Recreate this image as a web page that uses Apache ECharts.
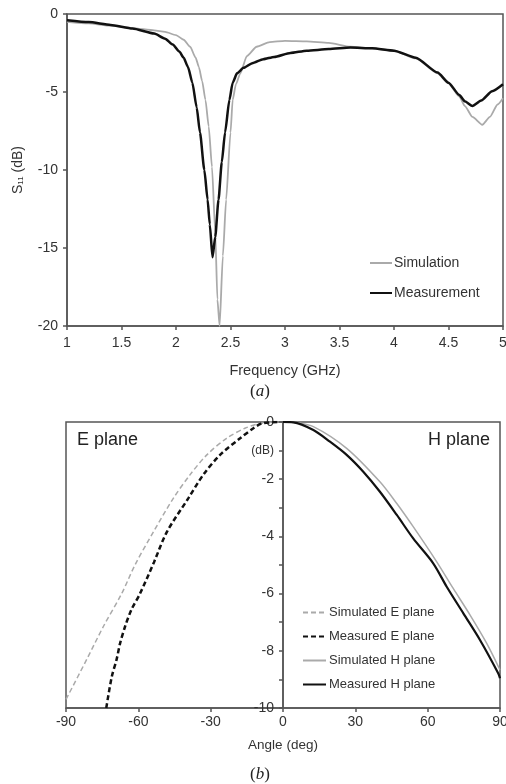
<!DOCTYPE html>
<html lang="en">
<head>
    <meta charset="UTF-8">
    <title>S11 and radiation pattern</title>
    <script src="https://cdn.jsdelivr.net/npm/echarts@6/dist/echarts.min.js"></script>
    <style>
        html, body { margin: 0; padding: 0; background: #fff; }
        #main { width: 506px; height: 784px; }
    </style>
</head>
<body>
<div id="main"></div>
<script>
    // (a) S11 vs frequency
    var freqSim = [1.0, 1.2, 1.4, 1.6, 1.8, 1.9, 2.0, 2.07, 2.13, 2.18, 2.21, 2.24, 2.27, 2.30, 2.33,
        2.36, 2.38, 2.40, 2.43, 2.46, 2.50, 2.52, 2.55, 2.59, 2.65, 2.74, 2.86, 3.0, 3.2, 3.4,
        3.6, 3.8, 4.0, 4.2, 4.4, 4.5, 4.6, 4.65, 4.72, 4.81, 4.88, 4.95, 5.0];
    var s11Sim = [-0.5, -0.6, -0.75, -0.9, -1.05, -1.15, -1.35, -1.65, -2.1, -2.8, -3.4, -4.3, -5.5, -7.2, -9.8,
        -14.0, -18.3, -20.0, -15.5, -11.9, -7.6, -5.5, -4.5, -3.8, -2.7, -2.1, -1.8, -1.72, -1.75, -1.85,
        -2.1, -2.2, -2.35, -2.85, -3.8, -4.45, -5.3, -5.9, -6.6, -7.1, -6.6, -5.8, -5.4];
    var freqMeas = [1.0, 1.2, 1.4, 1.6, 1.8, 1.9, 1.97, 2.03, 2.07, 2.11, 2.15, 2.19, 2.22, 2.26, 2.29,
        2.31, 2.335, 2.36, 2.39, 2.42, 2.45, 2.49, 2.52, 2.56, 2.62, 2.7, 2.8, 2.9, 3.05, 3.2,
        3.4, 3.6, 3.8, 4.0, 4.2, 4.4, 4.5, 4.6, 4.65, 4.72, 4.8, 4.9, 5.0];
    var s11Meas = [-0.4, -0.52, -0.7, -0.93, -1.25, -1.58, -1.95, -2.4, -2.8, -3.4, -4.4, -6.0, -7.6, -10.0, -11.9,
        -13.5, -15.6, -14.3, -11.9, -9.5, -7.6, -5.5, -4.4, -3.8, -3.45, -3.15, -2.9, -2.75, -2.5, -2.35,
        -2.25, -2.15, -2.2, -2.35, -2.8, -3.75, -4.4, -5.2, -5.6, -5.9, -5.55, -4.95, -4.5];

    // (b) normalized pattern
    var angSimE = [-90, -81.4, -74.5, -66.9, -61.4, -53.8, -45.5, -38.6, -31.6, -23.4, -15.8, -9.5, -2];
    var dbSimE = [-9.7, -8.3, -7.15, -6.0, -5.0, -3.85, -2.67, -1.85, -1.15, -0.57, -0.22, -0.05, 0];
    var angMeasE = [-73.3, -71, -69, -67.6, -65.5, -62.8, -59.3, -53.5, -48.2, -39.3, -33.1, -26.1, -17.8, -12.3, -8.8, -2];
    var dbMeasE = [-10, -8.9, -8.3, -7.75, -7.15, -6.55, -6.0, -4.9, -3.85, -2.67, -1.85, -1.15, -0.57, -0.22, -0.05, 0];
    var angSimH = [0, 5, 12.6, 26.4, 40.2, 47.2, 54, 63.7, 70.6, 77.6, 84.5, 90];
    var dbSimH = [0, -0.02, -0.16, -0.92, -2.09, -2.85, -3.66, -4.88, -5.82, -6.75, -7.74, -8.67];
    var angMeasH = [0, 4.3, 12.6, 19.5, 26.4, 33.3, 40.2, 47.2, 54, 62.3, 67.9, 74.8, 81.7, 89.3, 90];
    var dbMeasH = [0, -0.01, -0.28, -0.69, -1.15, -1.74, -2.44, -3.25, -4.07, -4.94, -5.76, -6.69, -7.62, -8.79, -8.96];

    function zip(xs, ys) {
        var out = [];
        for (var i = 0; i < xs.length; i++) out.push([xs[i], ys[i]]);
        return out;
    }

    var axisCol = '#555';
    var labelCol = '#333';
    var lightGray = '#aaaaaa';
    var dark = '#111111';

    var myChart = echarts.init(document.getElementById('main'));

    var option = {
        animation: false,
        backgroundColor: '#fff',
        textStyle: { fontFamily: 'Liberation Sans, Arial, sans-serif' },
        grid: [
            { left: 67, top: 14, width: 436, height: 312, show: true, borderColor: axisCol, borderWidth: 1.5,
              outerBoundsMode: 'none', containLabel: false },
            { left: 66, top: 422, width: 434, height: 286, show: true, borderColor: axisCol, borderWidth: 1.5,
              outerBoundsMode: 'none', containLabel: false }
        ],
        xAxis: [
            {
                gridIndex: 0, type: 'value', min: 1, max: 5, interval: 0.5,
                axisLine: { onZero: false, lineStyle: { color: axisCol, width: 1.5 } },
                axisTick: { length: 4, lineStyle: { color: axisCol, width: 1.5 } },
                axisLabel: { fontSize: 14, color: labelCol, margin: 10 },
                splitLine: { show: false },
                name: 'Frequency (GHz)', nameLocation: 'middle', nameGap: 37,
                nameTextStyle: { fontSize: 14.5, color: labelCol }
            },
            {
                gridIndex: 1, type: 'value', min: -90, max: 90, interval: 30,
                axisLine: { onZero: false, lineStyle: { color: axisCol, width: 1.5 } },
                axisTick: { length: 4, lineStyle: { color: axisCol, width: 1.5 } },
                axisLabel: { fontSize: 14, color: labelCol, margin: 7 },
                splitLine: { show: false },
                name: 'Angle (deg)', nameLocation: 'middle', nameGap: 30,
                nameTextStyle: { fontSize: 13.5, color: labelCol }
            }
        ],
        yAxis: [
            {
                gridIndex: 0, type: 'value', min: -20, max: 0, interval: 5,
                axisLine: { onZero: false, lineStyle: { color: axisCol, width: 1.5 } },
                axisTick: { length: 4, lineStyle: { color: axisCol, width: 1.5 } },
                axisLabel: { fontSize: 14, color: labelCol, margin: 9 },
                splitLine: { show: false },
                name: '{s|S}{sub|11}{s| (dB)}', nameLocation: 'middle', nameGap: 42,
                nameTextStyle: {
                    rich: {
                        s: { fontSize: 14, color: labelCol },
                        sub: { fontSize: 8, color: labelCol, verticalAlign: 'bottom' }
                    }
                }
            },
            {
                // left half of the crossing ticks, with labels
                gridIndex: 1, type: 'value', min: -10, max: 0, interval: 1,
                offset: -217,
                axisLine: { onZero: false, lineStyle: { color: axisCol, width: 1.5 } },
                axisTick: { length: 4, lineStyle: { color: axisCol, width: 1.5 } },
                axisLabel: {
                    fontSize: 14, color: labelCol, margin: 9,
                    formatter: function (v) {
                        if (v === -1) return '{u|(dB)}';
                        return v % 2 === 0 ? String(v) : '';
                    },
                    rich: { u: { fontSize: 12, color: labelCol } }
                },
                splitLine: { show: false }
            },
            {
                // right half of the crossing ticks
                gridIndex: 1, type: 'value', min: -10, max: 0, interval: 1,
                offset: -217,
                axisLine: { onZero: false, lineStyle: { color: axisCol, width: 1.5 } },
                axisTick: { inside: true, length: 4, lineStyle: { color: axisCol, width: 1.5 } },
                axisLabel: { show: false },
                splitLine: { show: false }
            }
        ],
        legend: [
            {
                data: ['Simulation', 'Measurement'],
                orient: 'vertical', left: 369, top: 256, padding: 0,
                itemWidth: 22, itemHeight: 14, itemGap: 16,
                itemStyle: { opacity: 0 },
                textStyle: { fontSize: 14, color: labelCol, padding: [0, 0, 0, -3] }
            },
            {
                data: ['Simulated E plane', 'Measured E plane', 'Simulated H plane', 'Measured H plane'],
                orient: 'vertical', left: 302, top: 606, padding: 0,
                itemWidth: 23, itemHeight: 14, itemGap: 11,
                itemStyle: { opacity: 0 },
                textStyle: { fontSize: 13, color: labelCol, padding: [0, 0, 0, -2] }
            }
        ],
        series: [
            {
                name: 'Simulation', type: 'line', xAxisIndex: 0, yAxisIndex: 0,
                data: zip(freqSim, s11Sim), symbol: 'none', smooth: 0.2, smoothMonotone: 'x',
                lineStyle: { color: lightGray, width: 1.8 }, itemStyle: { color: lightGray }
            },
            {
                name: 'Measurement', type: 'line', xAxisIndex: 0, yAxisIndex: 0,
                data: zip(freqMeas, s11Meas), symbol: 'none', smooth: 0.2, smoothMonotone: 'x',
                lineStyle: { color: dark, width: 2.5 }, itemStyle: { color: dark }
            },
            {
                name: 'Simulated E plane', type: 'line', xAxisIndex: 1, yAxisIndex: 1,
                data: zip(angSimE, dbSimE), symbol: 'none', smooth: 0.3,
                lineStyle: { color: lightGray, width: 1.5, type: [5, 3] }, itemStyle: { color: lightGray }
            },
            {
                name: 'Measured E plane', type: 'line', xAxisIndex: 1, yAxisIndex: 1,
                data: zip(angMeasE, dbMeasE), symbol: 'none', smooth: 0.3,
                lineStyle: { color: dark, width: 2.5, type: [5, 3] }, itemStyle: { color: dark }
            },
            {
                name: 'Simulated H plane', type: 'line', xAxisIndex: 1, yAxisIndex: 1,
                data: zip(angSimH, dbSimH), symbol: 'none', smooth: 0.3,
                lineStyle: { color: lightGray, width: 1.5 }, itemStyle: { color: lightGray }
            },
            {
                name: 'Measured H plane', type: 'line', xAxisIndex: 1, yAxisIndex: 1,
                data: zip(angMeasH, dbMeasH), symbol: 'none', smooth: 0.3,
                lineStyle: { color: dark, width: 2.2 }, itemStyle: { color: dark }
            }
        ],
        graphic: [
            {
                type: 'text', x: 260, y: 392,
                style: {
                    text: '({i|a})', align: 'center', verticalAlign: 'middle',
                    font: '17px "Liberation Serif", serif', fill: '#222',
                    rich: { i: { fontStyle: 'italic', fontSize: 17, fontFamily: 'Liberation Serif' } }
                }
            },
            {
                type: 'text', x: 260, y: 775,
                style: {
                    text: '({i|b})', align: 'center', verticalAlign: 'middle',
                    font: '17px "Liberation Serif", serif', fill: '#222',
                    rich: { i: { fontStyle: 'italic', fontSize: 17, fontFamily: 'Liberation Serif' } }
                }
            },
            {
                type: 'text', x: 77, y: 440,
                style: { text: 'E plane', verticalAlign: 'middle', font: '18px "Liberation Sans", Arial', fill: '#222' }
            },
            {
                type: 'text', x: 490, y: 440,
                style: { text: 'H plane', align: 'right', verticalAlign: 'middle', font: '18px "Liberation Sans", Arial', fill: '#222' }
            }
        ]
    };

    myChart.setOption(option);
</script>
</body>
</html>
